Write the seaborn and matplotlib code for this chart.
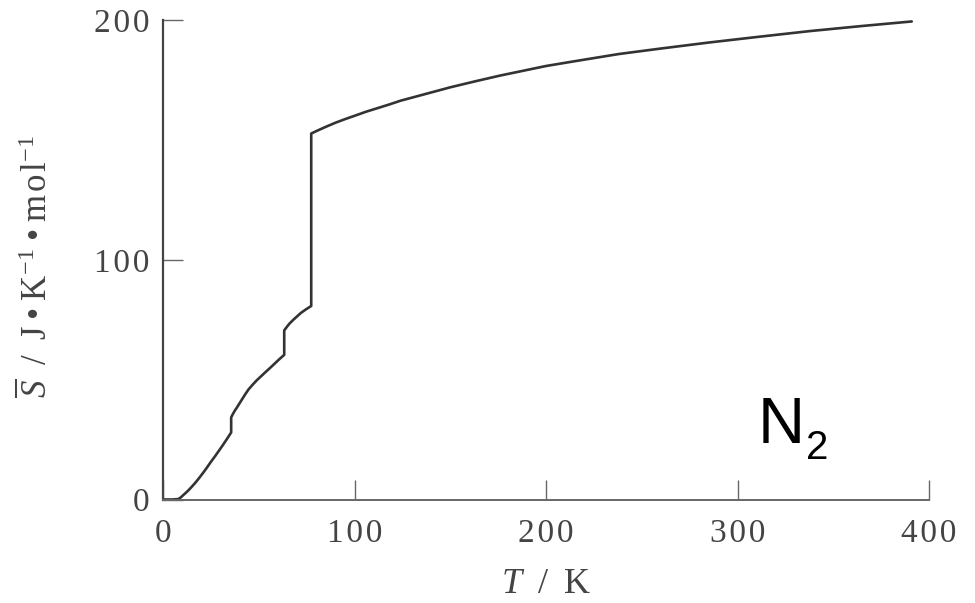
import matplotlib
matplotlib.use("Agg")
import matplotlib.pyplot as plt
import seaborn as sns
import pandas as pd

# Molar entropy of N2 vs temperature
T_K = [0, 5, 8, 9, 10, 11.5, 13, 15, 17, 19, 21, 23, 25, 27.3, 29.5, 31.5, 33.5, 35.6,
       35.6, 36.5, 37.5, 38.6, 40, 41.5, 43, 44.7, 47, 49, 51, 53.4, 56, 58, 60.5, 63.3,
       63.3, 64.5, 66, 68, 69.8, 72, 74.5, 77.4,
       77.4, 80, 85, 90, 95, 100, 106, 112, 118, 124, 137, 150, 163, 176, 188,
       200, 215, 238, 260, 285, 310, 338, 365, 391]
S_J = [0, 0, 0.2, 0.7, 1.4, 2.5, 3.6, 5.3, 7.1, 9.1, 11.2, 13.4, 15.7, 18.2, 20.7, 23, 25.4, 28,
       34.3, 35.7, 37.1, 38.4, 40.2, 42.1, 44, 46, 48.1, 49.8, 51.3, 53.1, 55, 56.5, 58.4, 60.4,
       70.6, 71.9, 73.4, 75, 76.3, 77.9, 79.3, 80.8,
       152.8, 153.8, 155.6, 157.3, 158.8, 160.2, 161.9, 163.4, 164.9, 166.5, 169.3, 172.1, 174.6, 177, 179,
       181, 183, 186, 188.3, 190.8, 193.1, 195.6, 197.7, 199.6]

x_ticks = [0, 100, 200, 300, 400]
y_ticks = [0, 100, 200]

sns.set_theme(style="ticks")
plt.rcParams["font.family"] = ["Liberation Serif", "DejaVu Serif"]
plt.rcParams["mathtext.fontset"] = "custom"
plt.rcParams["mathtext.rm"] = "Liberation Serif"
plt.rcParams["mathtext.it"] = "Liberation Serif:italic"
plt.rcParams["mathtext.bf"] = "Liberation Serif:bold"

df = pd.DataFrame({"T": T_K, "S": S_J})

fig = plt.figure(figsize=(9.75, 6.03), dpi=100)
ax = fig.add_axes([163 / 975, 1 - 499.5 / 603, (929 - 163) / 975, (499.5 - 20.5) / 603])

sns.lineplot(data=df, x="T", y="S", sort=False, estimator=None,
             color="#333333", linewidth=1.9, ax=ax)

hs = "\u200a"
ts = "\u2009"


def spaced(v):
    return hs.join(str(v))


ax.set_xlim(0, 400)
ax.set_ylim(0, 200)
ax.set_xticks(x_ticks)
ax.set_yticks(y_ticks)
ax.set_xticklabels([spaced(v) for v in x_ticks])
ax.set_yticklabels([spaced(v) for v in y_ticks])

for side in ["top", "right"]:
    ax.spines[side].set_visible(False)
ax.spines["left"].set_color("#444444")
ax.spines["left"].set_linewidth(1.6)
ax.spines["bottom"].set_color("#666666")
ax.spines["bottom"].set_linewidth(1.4)

ax.tick_params(axis="both", direction="in", length=14.5, width=1.0,
               color="#666666", labelcolor="#444444", labelsize=24)
ax.tick_params(axis="x", pad=14)
ax.tick_params(axis="y", pad=10)

ax.set_xlabel(r"$\mathit{T}$" + ts + " / " + ts + "K", fontsize=26, color="#444444")
ax.xaxis.set_label_coords(0.5, -0.143)
ax.xaxis.label.set_va("top")
ax.set_ylabel(r"$\overline{\mathit{S}}$" + ts + " / " + ts + "J" + ts + "•" + ts + "K$^{-1}$"
              + ts + "•" + ts + "m" + hs + "o" + hs + "l$^{-1}$",
              fontsize=25, color="#444444")
ax.yaxis.set_label_coords(-0.141, 0.485)

ax.text(310.5, 23.5, "N", fontsize=47, color="black",
        family=["Liberation Sans", "DejaVu Sans"], ha="left", va="baseline")
ax.text(335.8, 16.9, "2", fontsize=29, color="black",
        family=["Liberation Sans", "DejaVu Sans"], ha="left", va="baseline")

fig.savefig("out.png", dpi=100)
